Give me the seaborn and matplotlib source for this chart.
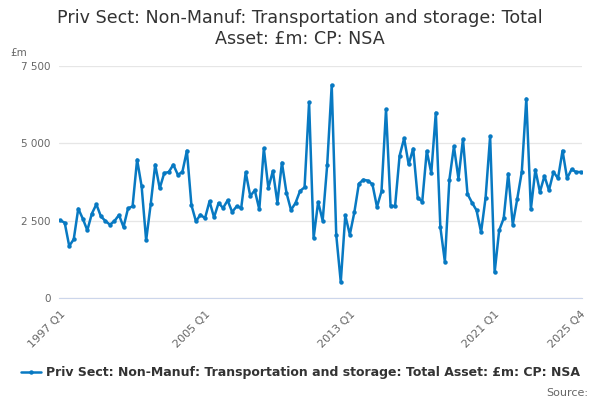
import matplotlib
matplotlib.use("Agg")
import matplotlib.pyplot as plt
from matplotlib.lines import Line2D
import seaborn as sns
import pandas as pd

years = list(range(1997, 2026))
quarters = [f"{y} Q{q}" for y in years for q in range(1, 5)]

values = [
    2510, 2435, 1681, 1897, 2888, 2565, 2188, 2726, 3028, 2640,
    2489, 2371, 2489, 2683, 2295, 2899, 2963, 4472, 3610, 1864,
    3028, 4310, 3545, 4041, 4073, 4310, 3987, 4073, 4763, 3006,
    2478, 2694, 2575, 3125, 2608, 3071, 2909, 3157, 2780, 2963,
    2909, 4062, 3297, 3481, 2866, 4838, 3556, 4106, 3082, 4375,
    3405, 2845, 3071, 3459, 3578, 6325, 1940, 3103, 2500, 4300,
    6886, 2037, 517, 2672, 2047, 2769, 3696, 3825, 3793, 3675,
    2942, 3448, 6099, 2985, 2974, 4600, 5162, 4321, 4828, 3244,
    3114, 4752, 4041, 5991, 2295, 1175, 3825, 4903, 3858, 5140,
    3362, 3082, 2834, 2123, 3244, 5226, 830, 2188, 2575, 4019,
    2371, 3211, 4084, 6444, 2866, 4149, 3427, 3944, 3481, 4073,
    3869, 4763, 3869, 4159, 4073, 4073,
]

series_name = "Priv Sect: Non-Manuf: Transportation and storage: Total Asset: £m: CP: NSA"
label_quarters = ["1997 Q1", "2005 Q1", "2013 Q1", "2021 Q1", "2025 Q4"]
y_ticks = [0, 2500, 5000, 7500]

df = pd.DataFrame({"pos": range(len(quarters)), "quarter": quarters, "value": values})

sns.set_style("white")
plt.rcParams["font.family"] = ["DejaVu Sans"]
color = "#0879c2"

fig = plt.figure(figsize=(6, 4), dpi=100)
ax = fig.add_axes([0.098, 0.255, 0.872, 0.58])

sns.lineplot(data=df, x="pos", y="value", ax=ax, color=color, linewidth=1.8,
             marker="o", markersize=3.2, markeredgewidth=0)

ax.set_ylim(0, 7500)
ax.set_xlim(-0.3, len(quarters) - 0.7)
ax.set_yticks(y_ticks)
ax.set_yticklabels([f"{v:,}".replace(",", " ") for v in y_ticks], fontsize=7.5, color="#666666")
ax.yaxis.grid(True, color="#e6e6e6", linewidth=0.9)
ax.set_axisbelow(True)

# ticks every 2 years plus the last quarter, labels every 8 years
tick_pos = list(range(0, len(quarters), 8)) + [len(quarters) - 1]
ax.set_xticks(tick_pos)
ax.set_xticklabels([quarters[p] if quarters[p] in label_quarters else "" for p in tick_pos],
                   rotation=45, ha="right", rotation_mode="anchor", fontsize=8, color="#666666")
ax.tick_params(axis="x", length=5, color="#ccd6eb", width=1, pad=3)
ax.tick_params(axis="y", length=0, pad=6)

for s in ["top", "right", "left"]:
    ax.spines[s].set_visible(False)
ax.spines["bottom"].set_color("#ccd6eb")
ax.set_xlabel("")
ax.set_ylabel("")

fig.text(0.5, 0.955, "Priv Sect: Non-Manuf: Transportation and storage: Total",
         ha="center", va="center", fontsize=12.6, color="#333333")
fig.text(0.5, 0.902, "Asset: £m: CP: NSA", ha="center", va="center", fontsize=12.6, color="#333333")
fig.text(0.017, 0.868, "£m", fontsize=7.5, color="#666666", va="center")

handle = Line2D([], [], color=color, linewidth=1.8, marker="o", markersize=3.2, markeredgewidth=0)
leg = fig.legend([handle], [series_name], loc="center", bbox_to_anchor=(0.5, 0.068),
                 frameon=False, handlelength=1.6, handletextpad=0.4,
                 prop={"weight": "bold", "size": 9})
for t in leg.get_texts():
    t.set_color("#333333")

fig.text(0.98, 0.018, "Source:", ha="right", va="center", fontsize=8, color="#666666")

fig.savefig("out.png", dpi=100)
